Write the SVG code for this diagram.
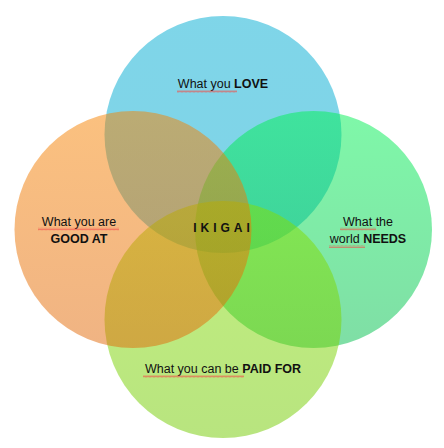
<svg xmlns="http://www.w3.org/2000/svg" width="444" height="448" viewBox="0 0 444 448">
<defs>
<linearGradient id="gBlue" x1="0" y1="0" x2="0" y2="1"><stop offset="0" stop-color="#00ACD2"/><stop offset="1" stop-color="#00A8D0"/></linearGradient>
<linearGradient id="gOrange" x1="0" y1="0" x2="0" y2="1"><stop offset="0" stop-color="#F78300"/><stop offset="1" stop-color="#E16808"/></linearGradient>
<linearGradient id="gGreen" x1="0" y1="0" x2="0" y2="1"><stop offset="0" stop-color="#00F153"/><stop offset="1" stop-color="#00BD4C"/></linearGradient>
<linearGradient id="gLime" x1="0" y1="0" x2="0" y2="1"><stop offset="0" stop-color="#85DF00"/><stop offset="1" stop-color="#72CA00"/></linearGradient>
<pattern id="sq" width="4" height="3" patternUnits="userSpaceOnUse"><path d="M0,2.5 L1,0.5 L2,2.5 L3,0.5 L4,2.5" fill="none" stroke="#f0504a" stroke-width="0.6"/></pattern>
</defs>
<style>
.c{fill-opacity:0.5}
text{font-family:"Liberation Sans",Arial,sans-serif;font-size:12.5px;fill:#111;text-anchor:middle}
.b{font-weight:bold}
.sq{fill:url(#sq)}
</style>
<rect width="444" height="448" fill="#ffffff"/>
<g id="love"><circle class="c" cx="223" cy="134.5" r="118.5" fill="url(#gBlue)"/></g>
<g id="needs"><circle class="c" cx="313.5" cy="229.5" r="118.5" fill="url(#gGreen)"/></g>
<g id="paid"><circle class="c" cx="223" cy="319.5" r="118.5" fill="url(#gLime)"/></g>
<g id="good"><circle class="c" cx="133" cy="229.5" r="118.5" fill="url(#gOrange)"/></g>
<g id="labels">
<text x="223" y="88">What you <tspan class="b">LOVE</tspan></text>
<rect class="sq" x="177" y="90" width="60" height="3"/>
<text x="79" y="225.5">What you are</text>
<rect class="sq" x="38" y="227.5" width="81" height="3"/>
<text x="79" y="243" class="b">GOOD AT</text>
<text x="368" y="225.5">What the</text>
<rect class="sq" x="340" y="227.5" width="36" height="3"/>
<text x="368" y="243">world <tspan class="b">NEEDS</tspan></text>
<rect class="sq" x="329" y="245" width="36" height="3"/>
<text x="223" y="373">What you can be <tspan class="b">PAID FOR</tspan></text>
<rect class="sq" x="143" y="375" width="101" height="3"/>
<text x="223.5" y="232" class="b" letter-spacing="4" style="font-size:12px">IKIGAI</text>
</g>
</svg>
